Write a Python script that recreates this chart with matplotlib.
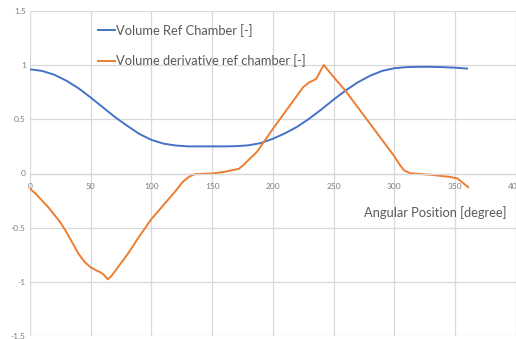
import numpy as np
import matplotlib
matplotlib.use("Agg")
import matplotlib.pyplot as plt

# Volume of the reference chamber, sampled every 10 degrees
angle_vol = [0, 10, 20, 30, 40, 50, 60, 70, 80, 90, 100, 110, 120, 130, 140,
             150, 160, 170, 180, 190, 200, 210, 220, 230, 240, 250, 260, 270,
             280, 290, 300, 310, 320, 330, 340, 350, 360]
volume = [0.96, 0.945, 0.91, 0.855, 0.785, 0.70, 0.61, 0.52, 0.44, 0.365,
          0.31, 0.275, 0.258, 0.25, 0.25, 0.25, 0.25, 0.252, 0.26, 0.28,
          0.32, 0.37, 0.43, 0.505, 0.59, 0.68, 0.765, 0.84, 0.90, 0.945,
          0.97, 0.98, 0.983, 0.983, 0.98, 0.975, 0.967]

# Derivative of the volume (normalised)
angle_der = [0, 5, 10, 15, 20, 25, 30, 35, 40, 45, 50, 55, 58, 61, 64, 67,
             70, 80, 90, 100, 110, 120, 126, 131, 136, 150, 160, 172, 176,
             180, 187, 200, 214, 225, 230, 233, 236, 239, 242, 250, 260, 270,
             280, 290, 300, 304, 308, 313, 330, 345, 352, 357, 361]
derivative = [-0.14, -0.19, -0.25, -0.31, -0.38, -0.45, -0.54, -0.64, -0.74,
              -0.815, -0.865, -0.895, -0.91, -0.935, -0.975, -0.945, -0.9,
              -0.75, -0.58, -0.42, -0.29, -0.16, -0.075, -0.03, -0.005, 0.0,
              0.015, 0.043, 0.08, 0.125, 0.2, 0.41, 0.626, 0.795, 0.84, 0.855,
              0.875, 0.94, 1.0, 0.89, 0.76, 0.61, 0.46, 0.31, 0.16, 0.09,
              0.03, 0.003, -0.012, -0.03, -0.045, -0.09, -0.126]

x_ticks = [0, 50, 100, 150, 200, 250, 300, 350, 400]
y_ticks = [-1.5, -1, -0.5, 0, 0.5, 1, 1.5]

BLUE = "#4472C4"
ORANGE = "#ED7D31"
GRID = "#D9D9D9"
TEXT = "#595959"

plt.rcParams['font.family'] = ['Lato', 'DejaVu Sans']

W, H = 516, 339
fig = plt.figure(figsize=(W / 100, H / 100), dpi=100)
ax = fig.add_axes([30 / W, 2.7 / H, 485.6 / W, 325.6 / H])

ax.plot(angle_vol, volume, color=BLUE, lw=1.4, label="Volume Ref Chamber [-]")
ax.plot(angle_der, derivative, color=ORANGE, lw=1.4,
        label="Volume derivative ref chamber [-]")

ax.set_xlim(0, 400)
ax.set_ylim(-1.5, 1.5)
ax.set_xticks(x_ticks)
ax.set_yticks(y_ticks)
ax.set_yticklabels([f"{v:g}" for v in y_ticks])
ax.grid(True, color=GRID, lw=0.9)
ax.set_axisbelow(True)

for side in ("top", "right", "left"):
    ax.spines[side].set_visible(False)
ax.spines["bottom"].set_position(("data", 0))
ax.spines["bottom"].set_color(GRID)
ax.spines["bottom"].set_linewidth(0.9)

ax.tick_params(axis="both", length=0, labelsize=6, labelcolor="#7F7F7F")
ax.tick_params(axis="x", pad=7)
ax.tick_params(axis="y", pad=3)

leg = ax.legend(loc="upper left", bbox_to_anchor=(63 / 485.6, 0.975),
                frameon=False, handlelength=1.3, handletextpad=0.05,
                labelspacing=1.35, fontsize=9.3, borderaxespad=0)
for t in leg.get_texts():
    t.set_color(TEXT)

ax.text(333.5, -0.356, "Angular Position [degree]", color=TEXT, fontsize=9.3,
        ha="center", va="center")

fig.savefig("out.png", dpi=100)
